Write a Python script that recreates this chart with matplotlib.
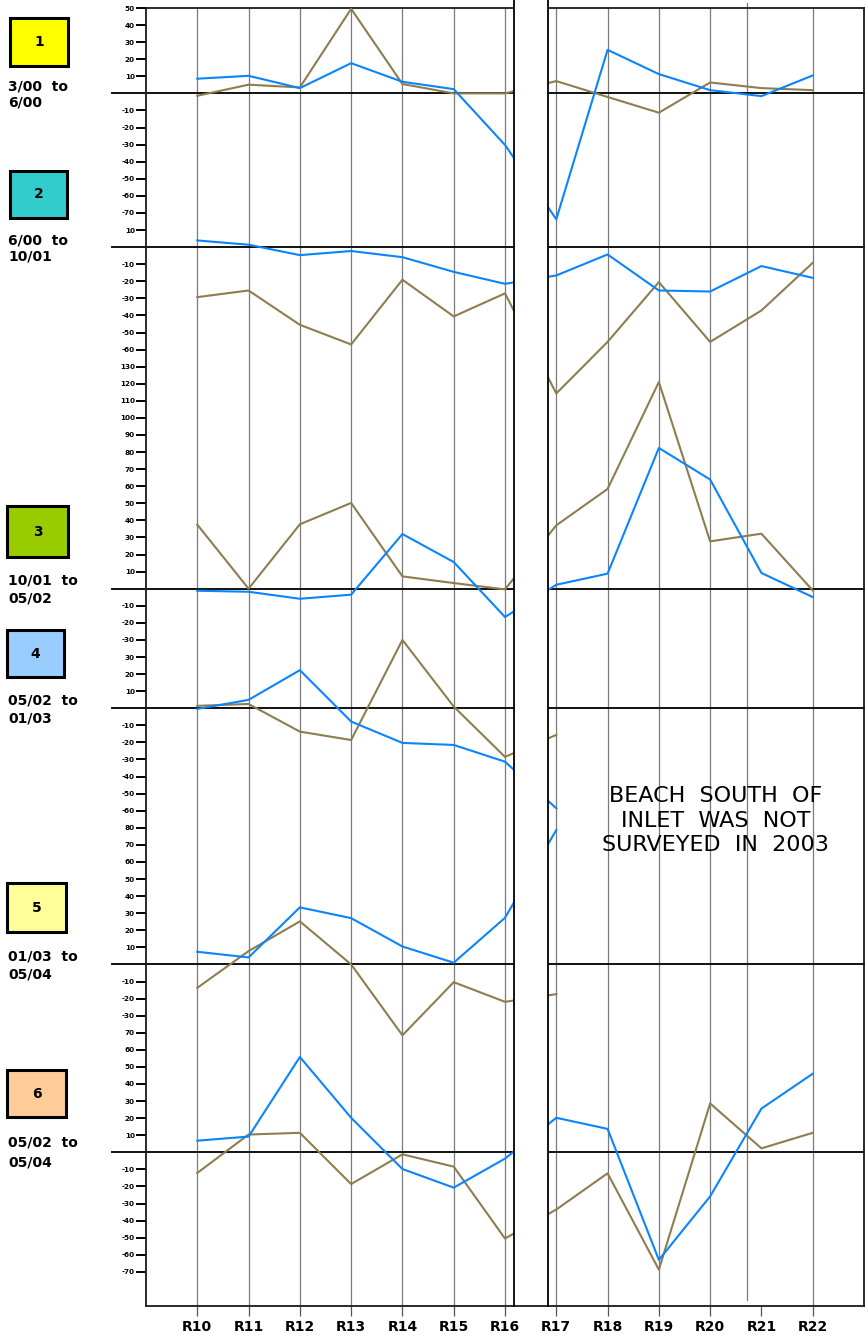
import matplotlib
matplotlib.use("Agg")
import matplotlib.pyplot as plt
import matplotlib.transforms as mtransforms
from matplotlib.patches import Rectangle

plt.rcParams['font.family'] = ['DejaVu Sans']

# ---------------- data ----------------
categories = ['R10', 'R11', 'R12', 'R13', 'R14', 'R15', 'R16',
              'R17', 'R18', 'R19', 'R20', 'R21', 'R22']

blue1 = [8.6, 10.3, 3.1, 17.7, 6.8, 2.5, -30.2, -73.7, 25.5, 11.3, 1.9, -1.6, 10.5]
brown1 = [-1.4, 5.1, 3.5, 49.5, 5.5, 0.0, 0.0, 7.2, -2.1, -11.3, 6.4, 3.1, 1.9]

blue2 = [3.9, 1.4, -4.7, -2.3, -5.9, -14.5, -21.5, -16.6, -4.3, -25.4, -26.0, -11.1, -18.0]
brown2 = [-29.3, -25.4, -45.5, -57.0, -19.1, -40.6, -27.1, -85.7, -55.5, -20.5, -55.5, -37.1, -9.2]

blue3 = [-1.2, -1.8, -5.9, -3.5, 32.0, 15.6, -16.6, 2.3, 8.8, 82.4, 63.9, 9.2, -4.9]
brown3 = [37.5, 0.0, 37.7, 50.2, 7.2, 3.3, -0.4, 37.1, 58.4, 121.0, 27.7, 32.2, -1.0]

blue4 = [-0.4, 4.9, 22.3, -7.8, -20.3, -21.5, -31.3, -58.6]
brown4 = [1.4, 2.5, -13.7, -18.6, 40.0, 1.0, -28.5, -15.6]

blue5 = [7.4, 4.1, 33.4, 27.1, 10.5, 1.0, 27.3, 78.7]
brown5 = [-13.7, 7.8, 25.2, 0.0, -41.5, -10.4, -21.9, -17.4]

blue6 = [6.8, 9.2, 55.8, 20.2, -9.8, -20.7, -3.7, 20.2, 13.7, -63.0, -25.8, 25.6, 46.0]
brown6 = [-12.1, 10.4, 11.4, -18.6, -1.2, -8.4, -50.5, -33.5, -12.3, -68.7, 28.6, 2.3, 11.4]

panel_numbers = ['1', '2', '3', '4', '5', '6']
panel_periods = [('3/00  to', '6/00'), ('6/00  to', '10/01'), ('10/01  to', '05/02'),
                 ('05/02  to', '01/03'), ('01/03  to', '05/04'), ('05/02  to', '05/04')]
panel_colors = ['#FFFF00', '#33CCCC', '#99CC00', '#99CCFF', '#FFFF99', '#FFCC99']

pos_ticks = [[10, 20, 30, 40, 50], [10], list(range(10, 140, 10)),
             [10, 20, 30], list(range(10, 90, 10)), list(range(10, 80, 10))]
neg_ticks = [list(range(-10, -80, -10)), list(range(-10, -70, -10)), [-10, -20, -30],
             list(range(-10, -70, -10)), [-10, -20, -30], list(range(-10, -80, -10))]

note_text = "BEACH  SOUTH  OF\nINLET  WAS  NOT\nSURVEYED  IN  2003"

# ---------------- layout ----------------
W, H = 866, 1336
offsets = [620, 530, 330, 260, 110, 0]   # stacked panel zero levels
BLUE = '#0A84FF'
BROWN = '#8E7D4F'

fig = plt.figure(figsize=(W / 100, H / 100), dpi=100)
ax = fig.add_axes([146 / W, 30 / H, (864 - 146) / W, 1298 / H])
ax.set_xlim(-1, 13)
ax.set_ylim(-90, 670)

xs = list(range(len(categories)))
series = [(blue1, brown1), (blue2, brown2), (blue3, brown3),
          (blue4, brown4), (blue5, brown5), (blue6, brown6)]
for off, (b, r) in zip(offsets, series):
    ax.plot(xs[:len(r)], [v + off for v in r], color=BROWN, lw=1.5, zorder=3)
    ax.plot(xs[:len(b)], [v + off for v in b], color=BLUE, lw=1.5, zorder=3)

# vertical grid lines (R21 line is drawn displaced in the original)
for i, c in enumerate(categories):
    if c == 'R21':
        continue
    ax.axvline(i, color='#7a7a7a', lw=0.9, zorder=1)
tr_x = mtransforms.blended_transform_factory(ax.transData, ax.transAxes)
ax.plot([10.72, 10.72], [0.0046, 1.0039], color='#7a7a7a', lw=0.9,
        transform=tr_x, clip_on=False, zorder=1)

# zero lines extending into the tick label area
tr_y = mtransforms.blended_transform_factory(ax.transAxes, ax.transData)
for off in offsets:
    ax.plot([-0.0474, 1.0], [off, off], color='#111111', lw=1.4,
            transform=tr_y, clip_on=False, zorder=2)

# white break band with border lines
ax.add_patch(Rectangle((6.18, 0.001), 0.65, 1.01, transform=tr_x, facecolor='white',
                       edgecolor='none', clip_on=False, zorder=4))
for xb in (6.18, 6.83):
    ax.plot([xb, xb], [0, 1.0062], color='black', lw=1.3, transform=tr_x,
            clip_on=False, zorder=5)

# y ticks
yt, yl = [], []
for off, p, n in zip(offsets, pos_ticks, neg_ticks):
    for v in p + n:
        yt.append(v + off)
        yl.append(str(v))
ax.set_yticks(yt)
ax.set_yticklabels(yl, fontsize=5.2, fontweight='bold')
ax.tick_params(axis='y', length=7, width=1.4, pad=1, color='black')

ax.set_xticks(xs)
ax.set_xticklabels(categories, fontsize=10, fontweight='bold')
ax.tick_params(axis='x', length=7, width=0.9, color='#555555', pad=3)

for s in ax.spines.values():
    s.set_linewidth(1.3)
    s.set_color('#1a1a1a')

ax.text(10.1, 194, note_text, ha='center', va='center', fontsize=16,
        linespacing=1.28, zorder=6)

# ---------------- left legend boxes ----------------
boxes = [(10, 18, 68, 66), (10, 171, 67, 218), (7, 506, 68, 557),
         (7, 630, 64, 677), (7, 883, 66, 932), (7, 1070, 66, 1117)]
text_y = [(86, 103), (240, 257), (580, 598), (700, 718), (956, 974), (1143, 1162)]
for (x0, y0, x1, y1), col, num, (l1, l2), (ty1, ty2) in zip(
        boxes, panel_colors, panel_numbers, panel_periods, text_y):
    fig.add_artist(Rectangle((x0 / W, 1 - y1 / H), (x1 - x0) / W, (y1 - y0) / H,
                             transform=fig.transFigure, facecolor=col,
                             edgecolor='black', lw=2.2))
    fig.text((x0 + x1) / 2 / W, 1 - (y0 + y1) / 2 / H, num, ha='center', va='center',
             fontsize=10, fontweight='bold')
    fig.text(8 / W, 1 - ty1 / H, l1, ha='left', va='center', fontsize=10,
             fontweight='bold')
    fig.text(8 / W, 1 - ty2 / H, l2, ha='left', va='center', fontsize=10,
             fontweight='bold')

fig.savefig('out.png', dpi=100)
